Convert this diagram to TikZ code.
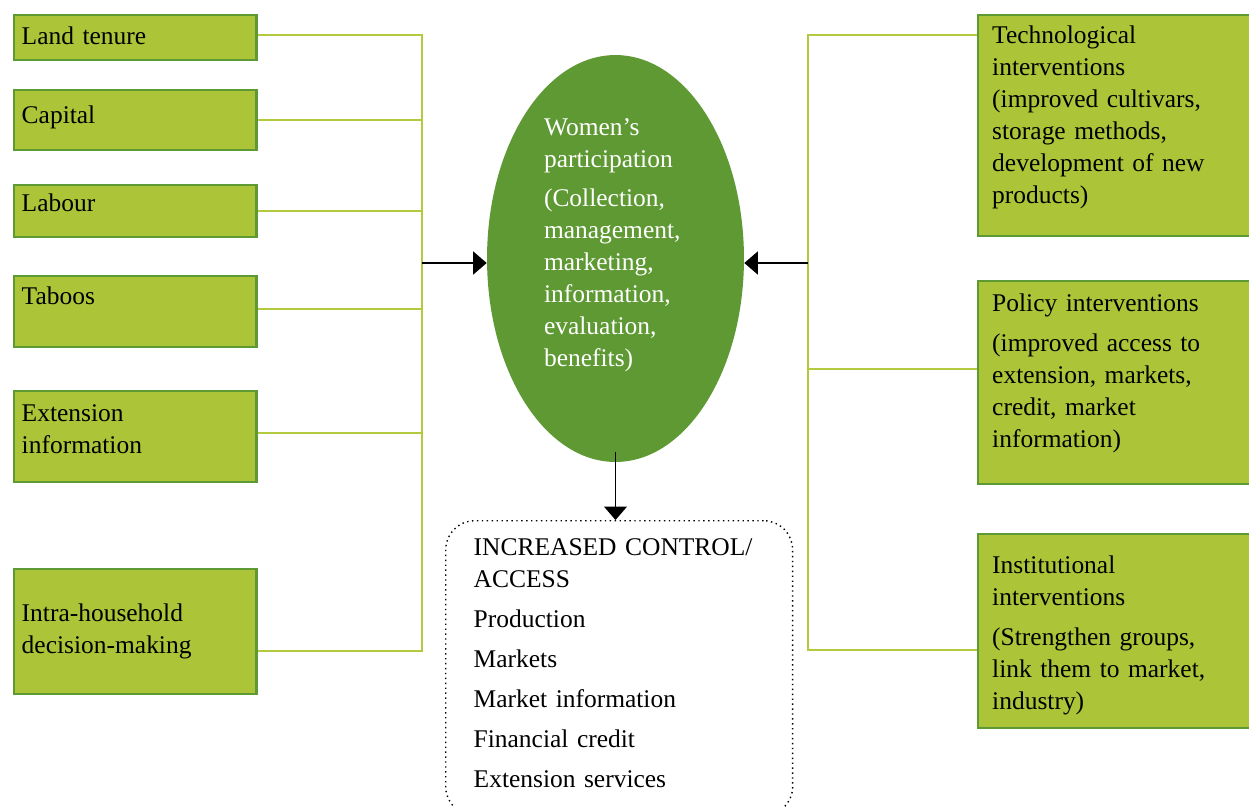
\documentclass[tikz,border=0pt]{standalone}
\usepackage{fontspec}
\setmainfont{Liberation Serif}
\usepackage{xcolor}
\usepackage{tikz}
\usetikzlibrary{arrows.meta,positioning,shapes.geometric,calc}

\definecolor{leaf}{HTML}{ACC438}
\definecolor{leafdark}{HTML}{5E9A34}
\definecolor{stem}{HTML}{B2CB3E}
\definecolor{core}{HTML}{5F9934}

\begin{document}
\begin{tikzpicture}[
    x=0.02cm, y=-0.02cm,
    font=\fontsize{14.5}{18.2}\selectfont,
    factor/.style={draw=leafdark, line width=1.4pt, fill=leaf, anchor=north west, align=left, text width=4.54cm, inner xsep=0.16cm, inner ysep=0pt},
    lever/.style={factor, text width=5cm, inner xsep=0.28cm},
    outcome/.style={draw, dotted, line width=0.8pt, rounded corners=0.58cm, anchor=north west, align=left, text width=5.82cm, inner xsep=0.56cm, inner ysep=0pt},
    link/.style={draw=stem, line width=1.4pt},
    arrow/.style={-{Triangle[length=0.27cm, width=0.46cm]}, line width=0.8pt}
]
\useasboundingbox (0,0) rectangle (1249,806);
\clip (0,0) rectangle (1249,806);

% constraints on the left
\node[factor, text height=0.58cm, text depth=0.32cm] (land) at (12.5,14) {Land tenure};
\node[factor, text height=0.66cm, text depth=0.54cm] (capital) at (12.5,89) {Capital};
\node[factor, text height=0.52cm, text depth=0.52cm] (labour) at (12.5,184) {Labour};
\node[factor, text height=0.56cm, text depth=0.86cm] (taboos) at (12.5,275) {Taboos};
\node[factor, text height=0.60cm, text depth=1.22cm] (ext) at (12.5,390) {Extension\\information};
\node[factor, text height=1.04cm, text depth=1.46cm] (intra) at (12.5,568) {Intra-household\\decision-making};

% interventions on the right
\node[lever, text height=0.56cm, text depth=3.86cm] (tech) at (977,14) {Technological\\interventions\\(improved cultivars,\\storage methods,\\development of new\\products)};
\node[lever, text height=0.60cm, text depth=3.46cm] (policy) at (977,280) {Policy interventions\\[4.5pt](improved access to\\extension, markets,\\credit, market\\information)};
\node[lever, text height=0.78cm, text depth=3.10cm] (inst) at (977,533) {Institutional\\interventions\\[4.5pt](Strengthen groups,\\link them to market,\\industry)};

% centre
\node[ellipse, fill=core, text=white, minimum width=5.14cm, minimum height=8.14cm, inner sep=0pt, text width=2.86cm, align=left, text height=0.3cm, text depth=5.24cm] (women) at (615.5,258.5) {Women's\\participation\\[4.5pt](Collection,\\management,\\marketing,\\information,\\evaluation,\\benefits)};

\node[outcome, text height=0.70cm, text depth=5.2cm] (result) at (445,520) {INCREASED CONTROL/\\ACCESS\\[4.5pt]Production\\[4.5pt]Markets\\[4.5pt]Market information\\[4.5pt]Financial credit\\[4.5pt]Extension services};

\coordinate (lbus) at (422,263);
\coordinate (rbus) at (808,263);

\draw[link] ([yshift=0.05cm]land.east) -| (lbus);
\draw[link] (capital.east) -| (lbus);
\draw[link] (labour.east) -| (lbus);
\draw[link] ([yshift=0.05cm]taboos.east) -| (lbus);
\draw[link] ([yshift=0.07cm]ext.east) -| (lbus);
\draw[link] ([yshift=-1.66cm]intra.north east) -| (lbus);

\draw[link] ([yshift=-0.42cm]tech.north west) -| (rbus);
\draw[link] ([yshift=-1.78cm]policy.north west) -| (rbus);
\draw[link] ([yshift=-2.34cm]inst.north west) -| (rbus);

\draw[arrow] (lbus) -- (lbus -| women.west);
\draw[arrow] (rbus) -- (rbus -| women.east);
\draw[arrow] ([yshift=0.2cm]women.south) -- (women.south |- result.north);
\end{tikzpicture}
\end{document}
